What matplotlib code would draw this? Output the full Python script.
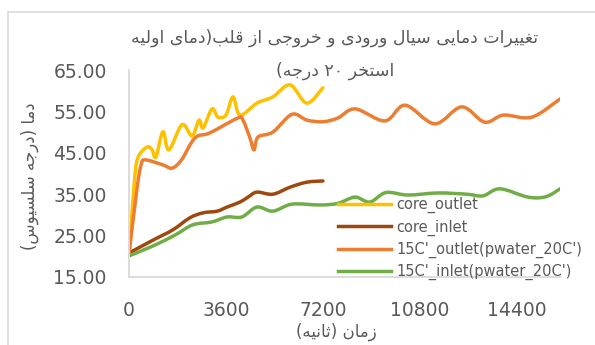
import re
import matplotlib
matplotlib.use("Agg")
import matplotlib.pyplot as plt
from matplotlib.path import Path
from matplotlib.patches import PathPatch
from matplotlib.lines import Line2D

# ---- data (time in seconds, temperature in °C) ----
t_core_outlet = [0, 200, 330, 670, 850, 1000, 1260, 1480, 1970, 2340, 2600, 2750,
                 3080, 3300, 3600, 3860, 4120, 4750, 5340, 5980, 6600, 7200]
core_outlet = [20.5, 38.0, 43.8, 46.4, 45.8, 44.0, 50.1, 45.7, 51.8, 49.1, 52.9, 51.0,
               55.6, 53.6, 54.1, 58.5, 54.1, 57.0, 58.5, 61.4, 57.0, 60.7]

t_core_inlet = [0, 890, 1630, 2260, 2750, 3270, 3640, 4120, 4420, 4750, 5340, 5980, 6600, 7200]
core_inlet = [20.8, 23.9, 26.4, 29.3, 30.5, 30.9, 31.9, 33.1, 34.3, 35.5, 35.0, 36.7, 37.9, 38.2]

t_pool_outlet = [0, 300, 450, 600, 1250, 1600, 1950, 2450, 3000, 4040, 4230, 4490, 4640,
                 4790, 5340, 6050, 6600, 7200, 7750, 8400, 9500, 10250, 11350, 12350,
                 13200, 13900, 14950, 16000]
pool_outlet = [20.5, 36.5, 42.1, 43.3, 42.1, 41.3, 43.3, 48.6, 49.8, 53.4, 52.9, 48.6, 45.7,
               48.8, 50.0, 54.3, 52.9, 52.5, 53.4, 55.6, 52.7, 56.5, 52.0, 56.1,
               52.4, 54.1, 53.6, 58.0]

t_pool_inlet = [0, 890, 1700, 2370, 3080, 3640, 4190, 4750, 5340, 6050, 7090, 7760, 8390,
                8940, 9540, 10350, 11470, 12540, 13140, 13770, 14810, 15480, 16000]
pool_inlet = [20.1, 22.5, 25.1, 27.6, 28.3, 29.5, 29.5, 31.9, 30.9, 32.6, 32.4, 32.8, 34.3,
              33.1, 35.4, 34.8, 35.3, 35.0, 34.6, 36.3, 34.3, 34.4, 36.3]

series_labels = ["core_outlet", "core_inlet", "15C'_outlet(pwater_20C')", "15C'_inlet(pwater_20C')"]
series_colors = ["#FFC000", "#9E480E", "#ED7D31", "#70AD47"]

x_ticks = [0, 3600, 7200, 10800, 14400]
y_ticks = [15, 25, 35, 45, 55, 65]

title_lines = ["تغییرات دمایی سیال ورودی و خروجی از قلب(دمای اولیه", "استخر ۲۰ درجه)"]
x_label = "زمان (ثانیه)"
y_label = "دما (درجه سلسیوس)"

# ---- minimal Arabic-script shaping (contextual forms + right-to-left order) ----
FORMS = {
    "ا": ("\uFE8D", "\uFE8E"),
    "د": ("\uFEA9", "\uFEAA"),
    "ر": ("\uFEAD", "\uFEAE"),
    "ز": ("\uFEAF", "\uFEB0"),
    "و": ("\uFEED", "\uFEEE"),
    "ب": ("\uFE8F", "\uFE90", "\uFE91", "\uFE92"),
    "ت": ("\uFE95", "\uFE96", "\uFE97", "\uFE98"),
    "ث": ("\uFE99", "\uFE9A", "\uFE9B", "\uFE9C"),
    "ج": ("\uFE9D", "\uFE9E", "\uFE9F", "\uFEA0"),
    "خ": ("\uFEA5", "\uFEA6", "\uFEA7", "\uFEA8"),
    "س": ("\uFEB1", "\uFEB2", "\uFEB3", "\uFEB4"),
    "غ": ("\uFECD", "\uFECE", "\uFECF", "\uFED0"),
    "ق": ("\uFED5", "\uFED6", "\uFED7", "\uFED8"),
    "ل": ("\uFEDD", "\uFEDE", "\uFEDF", "\uFEE0"),
    "م": ("\uFEE1", "\uFEE2", "\uFEE3", "\uFEE4"),
    "ن": ("\uFEE5", "\uFEE6", "\uFEE7", "\uFEE8"),
    "ه": ("\uFEE9", "\uFEEA", "\uFEEB", "\uFEEC"),
    "ی": ("\uFBFC", "\uFBFD", "\uFBFE", "\uFBFF"),
}


def shape(s):
    out = []
    for i, c in enumerate(s):
        forms = FORMS.get(c)
        if forms is None:
            out.append(c)
            continue
        prev = s[i - 1] if i > 0 else None
        nxt = s[i + 1] if i + 1 < len(s) else None
        join_prev = prev in FORMS and len(FORMS[prev]) == 4
        join_next = len(forms) == 4 and nxt in FORMS
        if join_prev and join_next:
            out.append(forms[3])
        elif join_prev:
            out.append(forms[1])
        elif join_next:
            out.append(forms[2])
        else:
            out.append(forms[0])
    return "".join(out)


def rtl(s):
    tokens = re.findall(r"[0-9\u06F0-\u06F9]+|.", shape(s))
    mirror = {"(": ")", ")": "("}
    return "".join(mirror.get(t, t) for t in tokens[::-1])


def smooth_path(xs, ys):
    """Cubic Bezier path through the points (Catmull-Rom style smoothing)."""
    pts = list(zip(xs, ys))
    verts = [pts[0]]
    codes = [Path.MOVETO]
    n = len(pts)
    for i in range(n - 1):
        p0 = pts[i - 1] if i > 0 else pts[i]
        p1 = pts[i]
        p2 = pts[i + 1]
        p3 = pts[i + 2] if i + 2 < n else pts[i + 1]
        c1 = (p1[0] + (p2[0] - p0[0]) / 6.0, p1[1] + (p2[1] - p0[1]) / 6.0)
        c2 = (p2[0] - (p3[0] - p1[0]) / 6.0, p2[1] - (p3[1] - p1[1]) / 6.0)
        verts += [c1, c2, p2]
        codes += [Path.CURVE4] * 3
    return Path(verts, codes)


plt.rcParams["font.family"] = ["DejaVu Sans"]
TXT = "#595959"
AX = "#D9D9D9"

fig = plt.figure(figsize=(5.95, 3.45), dpi=100)
W, H = 595, 345
ax = fig.add_axes([129 / W, 1 - 277 / H, (560 - 129) / W, (277 - 70) / H])

series = [
    (t_core_outlet, core_outlet),
    (t_core_inlet, core_inlet),
    (t_pool_outlet, pool_outlet),
    (t_pool_inlet, pool_inlet),
]
handles = []
for (tx, vy), lab, col in zip(series, series_labels, series_colors):
    patch = PathPatch(smooth_path(tx, vy), facecolor="none", edgecolor=col,
                      lw=2.5, capstyle="round", joinstyle="round")
    ax.add_patch(patch)
    handles.append(Line2D([], [], color=col, lw=2.5, label=lab))

ax.set_xlim(0, 16000)
ax.set_ylim(15, 65)
ax.set_xticks(x_ticks)
ax.set_xticklabels([str(v) for v in x_ticks])
ax.set_yticks(y_ticks)
ax.set_yticklabels([f"{v:.2f}" for v in y_ticks])
ax.tick_params(axis="both", length=0, colors=TXT, labelsize=13.5)
ax.tick_params(axis="y", pad=16)
ax.tick_params(axis="x", pad=17)
for side in ("top", "right"):
    ax.spines[side].set_visible(False)
for side in ("left", "bottom"):
    ax.spines[side].set_color(AX)
    ax.spines[side].set_linewidth(1.3)

leg = fig.legend(handles=handles, loc="upper left", bbox_to_anchor=(338 / W, 1 - 197 / H),
                 frameon=False, fontsize=10.5, handlelength=3.6, handletextpad=0.4,
                 labelspacing=0.42, borderpad=0, borderaxespad=0)
for t in leg.get_texts():
    t.set_color(TXT)

fig.text(335 / W, 1 - 38 / H, rtl(title_lines[0]), ha="center", va="center",
         fontsize=12.5, color=TXT)
fig.text(335 / W, 1 - 71 / H, rtl(title_lines[1]), ha="center", va="center",
         fontsize=12.5, color=TXT)
fig.text(336 / W, 1 - 332 / H, rtl(x_label), ha="center", va="center",
         fontsize=12, color=TXT)
fig.text(30 / W, 1 - 176 / H, rtl(y_label), ha="center", va="center",
         rotation=90, fontsize=12, color=TXT)

# chart area border
fig.add_artist(Line2D([8 / W, 1], [1 - 12 / H, 1 - 12 / H], color=AX, lw=1.2))
fig.add_artist(Line2D([8 / W, 8 / W], [0, 1 - 12 / H], color=AX, lw=1.2))

fig.savefig("out.png", dpi=100)
